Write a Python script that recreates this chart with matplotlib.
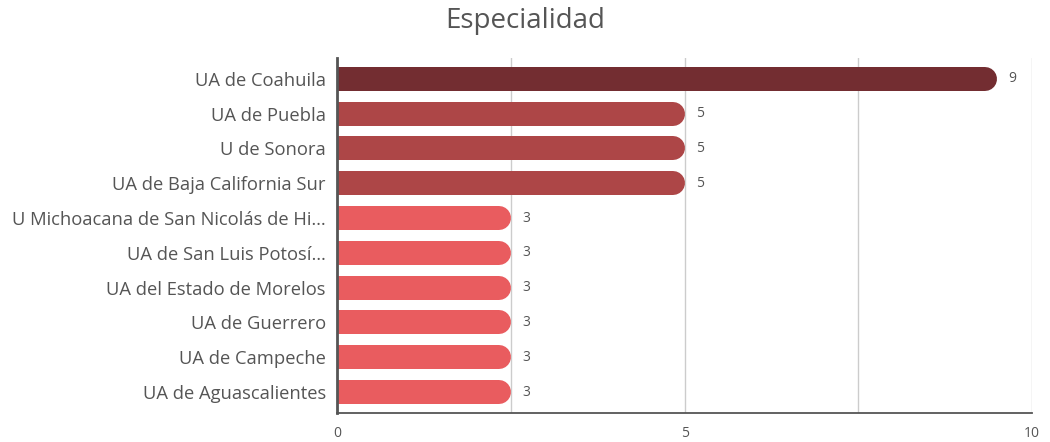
import matplotlib
matplotlib.use('Agg')
import matplotlib.pyplot as plt

# data
universidades = ['UA de Coahuila', 'UA de Puebla', 'U de Sonora', 'UA de Baja California Sur',
                 'U Michoacana de San Nicolás de Hi…', 'UA de San Luis Potosí…',
                 'UA del Estado de Morelos', 'UA de Guerrero', 'UA de Campeche',
                 'UA de Aguascalientes']
etiquetas = [9, 5, 5, 5, 3, 3, 3, 3, 3, 3]             # number printed next to each bar
largo = [9.5, 5, 5, 5, 2.5, 2.5, 2.5, 2.5, 2.5, 2.5]  # bar length as drawn in the picture
colores = ['#732D31', '#AD4647', '#AD4647', '#AD4647', '#E95C5F', '#E95C5F',
           '#E95C5F', '#E95C5F', '#E95C5F', '#E95C5F']

plt.rcParams['font.family'] = ['Open Sans', 'DejaVu Sans']
gris = '#555555'

fig = plt.figure(figsize=(10.5, 4.42), dpi=100)
ax = fig.add_axes([0.321, 0.0656, 0.662, 0.8034])
ax.set_xlim(0, 10)
ax.set_ylim(9.6, -0.6)

# bar thickness in pixels -> points, radius in data units
alto_px = 24
lw = alto_px * 72 / fig.dpi
px_por_unidad = ax.transData.transform((1, 0))[0] - ax.transData.transform((0, 0))[0]
r = (alto_px / 2) / px_por_unidad

for i in range(len(universidades)):
    ax.plot([-1, largo[i] - r], [i, i], color=colores[i], lw=lw,
            solid_capstyle='round', zorder=3)
    ax.text(largo[i] + 0.16, i, str(etiquetas[i]), va='center', ha='left',
            fontsize=10, color=gris)

ax.set_yticks(range(len(universidades)))
ax.set_yticklabels(universidades, fontsize=13.2, color=gris)
ax.set_xticks([0, 5, 10])
ax.set_xticks([2.5, 7.5], minor=True)
ax.tick_params(axis='y', length=0, pad=8)
ax.tick_params(axis='x', which='both', length=0, pad=9, labelsize=10, labelcolor=gris)
ax.grid(axis='x', which='both', color='#cccccc', lw=1, zorder=0)

for s in ['top', 'right']:
    ax.spines[s].set_visible(False)
ax.spines['left'].set_color(gris)
ax.spines['left'].set_linewidth(2)
ax.spines['left'].set_zorder(4)
ax.spines['bottom'].set_color(gris)
ax.spines['bottom'].set_linewidth(1.3)

fig.text(0.5, 0.952, 'Especialidad', ha='center', va='center', fontsize=20, color=gris)

fig.savefig('out.png', dpi=100)
